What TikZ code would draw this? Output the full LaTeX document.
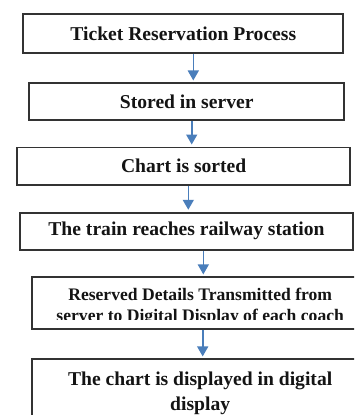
\documentclass[tikz,border=0pt]{standalone}
\usepackage{fontspec}
\setmainfont{Liberation Serif}
\usetikzlibrary{arrows.meta}
\definecolor{arrowblue}{HTML}{4A7EBB}
\definecolor{boxline}{HTML}{333333}
\definecolor{txtcol}{HTML}{141414}
\begin{document}
\begin{tikzpicture}[x=1pt,y=-1pt,
  box/.style={draw=boxline, line width=1.8pt, rectangle, inner sep=0pt,
    text=txtcol, font=\fontsize{19.6}{25}\selectfont\bfseries, align=center},
  smalltxt/.style={inner sep=0pt, text=txtcol, align=center,
    font=\fontsize{17.6}{21}\selectfont\bfseries},
  flow/.style={draw=arrowblue, line width=1.6pt,
    -{Triangle[width=11pt,length=10pt]}, shorten >=2pt}]
\clip (0,0) rectangle (354,415);
\fill[white] (0,0) rectangle (354,415);
\node[box, minimum width=320pt, minimum height=39.3pt] (b1) at (183.3,33.7) {Ticket Reservation Process};
\node[box, minimum width=314.7pt, minimum height=36.7pt] (b2) at (186.7,101.7) {Stored in server};
\node[box, minimum width=332.7pt, minimum height=37.6pt] (b3) at (183.7,166.2) {Chart is sorted};
\node[box, minimum width=333pt, minimum height=37.3pt] (b4) at (186.5,231.3) {The train reaches railway station};
\node[box, minimum width=335.7pt, minimum height=51.4pt] (b5) at (200.2,303) {};
\begin{scope}
  \clip (34,279) rectangle (366,319.5);
  \node[smalltxt] (t5) at (200.2,307.2) {Reserved Details Transmitted from\\server to Digital Display of each coach};
\end{scope}
\node[box, minimum width=335.7pt, minimum height=67.2pt] (b6) at (200.2,392.9) {The chart is displayed in digital\\display};
\draw[flow] ([xshift=10pt]b1.south) -- ([xshift=6.6pt]b2.north);
\draw[flow] ([xshift=5pt]b2.south) -- ([xshift=8pt]b3.north);
\draw[flow] ([xshift=4.6pt]b3.south) -- ([xshift=1.8pt]b4.north);
\draw[flow] ([xshift=16.8pt]b4.south) -- ([xshift=3.1pt]b5.north);
\draw[flow] ([xshift=2.5pt]b5.south) -- ([xshift=2.5pt]b6.north);
\end{tikzpicture}
\end{document}
